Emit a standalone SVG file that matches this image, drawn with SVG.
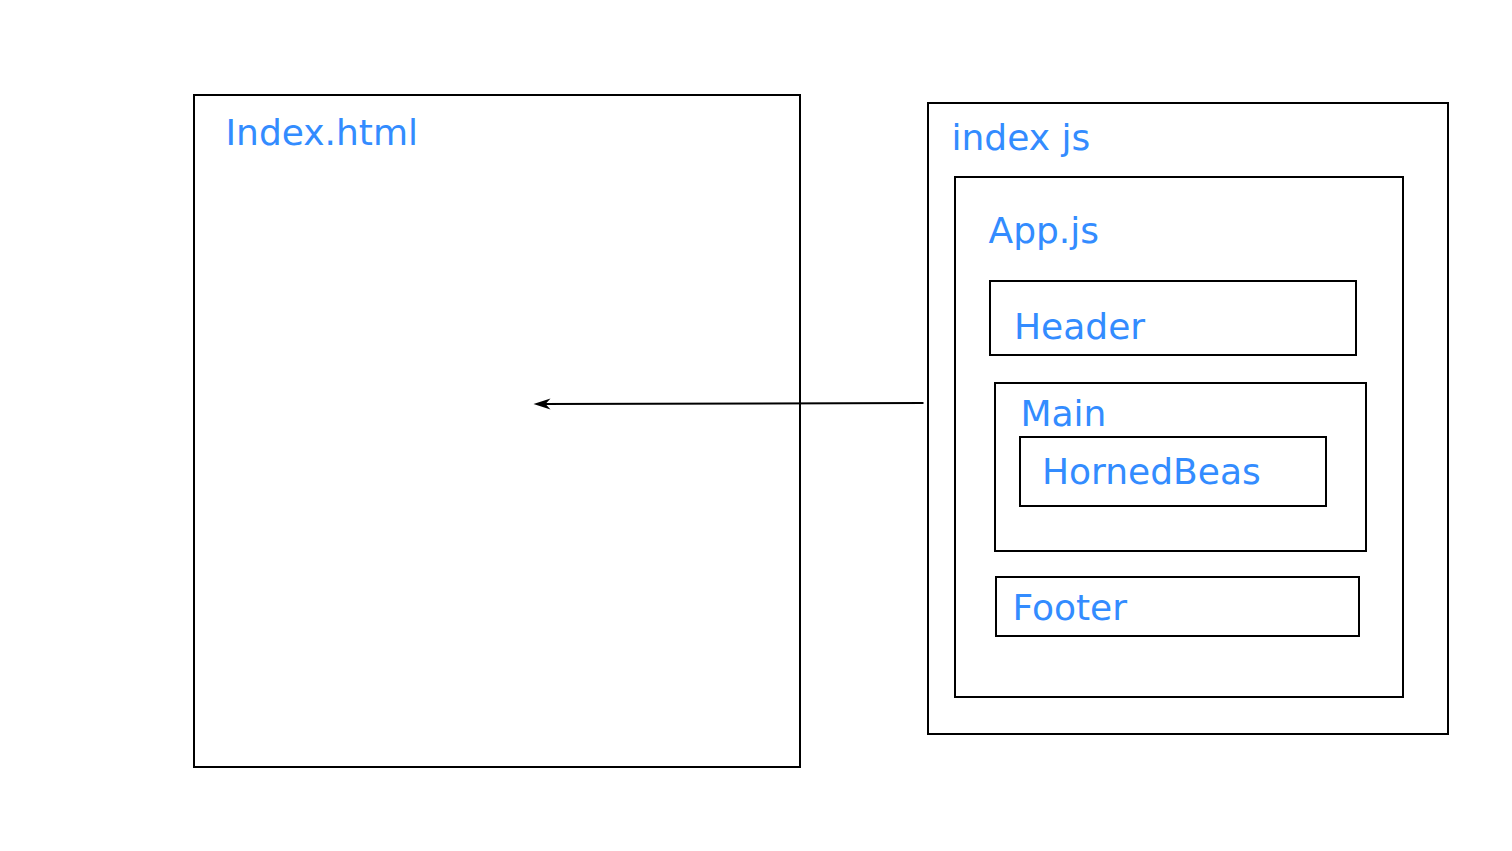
<svg xmlns="http://www.w3.org/2000/svg" width="1512" height="851" viewBox="0 0 1512 851">
  <defs>
    <style>
      .box { fill: #ffffff; stroke: #000000; stroke-width: 2; }
      .lbl { font-family: "DejaVu Sans", Verdana, sans-serif; font-size: 36px; fill: #338cff; }
      .edge { fill: none; stroke: #000000; stroke-width: 2; }
    </style>
  </defs>
  <rect width="1512" height="851" fill="#ffffff"/>

  <g id="index-html">
    <rect class="box" x="194" y="95" width="606" height="672"/>
    <text class="lbl" x="225.5" y="145">Index.html</text>
  </g>

  <g id="index-js">
    <rect class="box" x="928" y="103" width="520" height="631"/>
    <text class="lbl" x="951.5" y="150">index js</text>
  </g>

  <g id="app-js">
    <rect class="box" x="955" y="177" width="448" height="520"/>
    <text class="lbl" x="988.5" y="243">App.js</text>
  </g>

  <g id="header">
    <rect class="box" x="990" y="281" width="366" height="74"/>
    <text class="lbl" x="1014" y="339">Header</text>
  </g>

  <g id="main">
    <rect class="box" x="995" y="383" width="371" height="168"/>
    <text class="lbl" x="1020.5" y="426">Main</text>
  </g>

  <g id="hornedbeas">
    <rect class="box" x="1020" y="437" width="306" height="69"/>
    <text class="lbl" x="1042" y="484">HornedBeas</text>
  </g>

  <g id="footer">
    <rect class="box" x="996" y="577" width="363" height="59"/>
    <text class="lbl" x="1012.5" y="620">Footer</text>
  </g>

  <g id="connectors">
    <line class="edge" x1="923.5" y1="403" x2="540" y2="404"/>
    <path d="M533.5,404 L550.5,398.5 L545.5,404 L550.5,409.5 Z" fill="#000000"/>
  </g>
</svg>
